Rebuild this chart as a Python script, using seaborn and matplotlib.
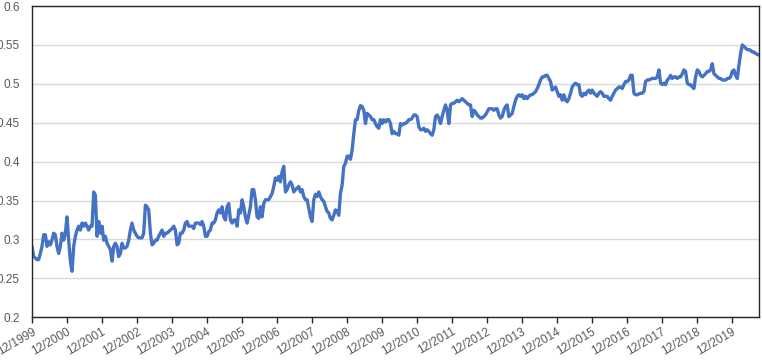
import pandas as pd
import numpy as np
import seaborn as sns
import matplotlib.pyplot as plt
import matplotlib.dates as mdates


values_2000_2006 = [
    0.291, 0.278, 0.276, 0.274, 0.274, 0.282, 0.291, 0.306, 0.306, 0.291,
    0.297, 0.293, 0.299, 0.308, 0.306, 0.291, 0.282, 0.291, 0.308, 0.299,
    0.308, 0.329, 0.299, 0.272, 0.259, 0.291, 0.304, 0.312, 0.317, 0.312,
    0.321, 0.317, 0.321, 0.317, 0.312, 0.317, 0.317, 0.361, 0.357, 0.304,
    0.323, 0.308, 0.317, 0.299, 0.304, 0.295, 0.291, 0.287, 0.272, 0.291,
    0.295, 0.291, 0.278, 0.282, 0.295, 0.289, 0.289, 0.291, 0.299, 0.312,
    0.321, 0.312, 0.308, 0.304, 0.302, 0.302, 0.302, 0.308, 0.344, 0.342,
    0.338, 0.308, 0.293, 0.295, 0.299, 0.299, 0.304, 0.308, 0.312, 0.304,
    0.308, 0.308, 0.310, 0.312, 0.314, 0.317, 0.312, 0.293, 0.295, 0.308,
    0.308, 0.312, 0.321, 0.323, 0.317, 0.317, 0.317, 0.314, 0.321, 0.321,
    0.321, 0.319, 0.323, 0.317, 0.304, 0.304, 0.310, 0.312, 0.321, 0.321,
    0.325, 0.334, 0.338, 0.334, 0.342, 0.329, 0.325, 0.342, 0.346, 0.325,
    0.321, 0.325, 0.325, 0.317, 0.338, 0.334, 0.351, 0.342, 0.329, 0.321,
    0.331, 0.342, 0.364, 0.364, 0.351,
]

values_2007_2013 = [
    0.329, 0.327, 0.342, 0.329, 0.346, 0.351, 0.351, 0.351, 0.355, 0.359,
    0.368, 0.379, 0.376, 0.381, 0.374, 0.387, 0.394, 0.361, 0.364, 0.370,
    0.374, 0.370, 0.361, 0.364, 0.366, 0.368, 0.361, 0.364, 0.355, 0.351,
    0.351, 0.340, 0.329, 0.323, 0.351, 0.358, 0.355, 0.361, 0.355, 0.351,
    0.349, 0.342, 0.336, 0.334, 0.327, 0.325, 0.331, 0.338, 0.336, 0.331,
    0.359, 0.370, 0.394, 0.398, 0.407, 0.407, 0.403, 0.415, 0.436, 0.454,
    0.454, 0.466, 0.472, 0.471, 0.466, 0.449, 0.462, 0.460, 0.458, 0.454,
    0.454, 0.449, 0.445, 0.443, 0.454, 0.449, 0.454, 0.451, 0.454, 0.454,
    0.449, 0.436, 0.439, 0.436, 0.436, 0.434, 0.449, 0.447, 0.449, 0.449,
    0.451, 0.454, 0.454, 0.456, 0.460, 0.460, 0.458, 0.445, 0.441, 0.441,
    0.443, 0.439, 0.441, 0.439, 0.436, 0.434, 0.441, 0.458, 0.460, 0.456,
    0.449, 0.458, 0.466, 0.473, 0.466, 0.449, 0.473, 0.475, 0.475, 0.477,
    0.479, 0.477, 0.479, 0.481, 0.479, 0.477, 0.475, 0.473, 0.473, 0.458,
    0.466, 0.464, 0.460, 0.458, 0.456, 0.456, 0.458, 0.460, 0.464, 0.468,
    0.468, 0.468, 0.466, 0.468, 0.468, 0.460, 0.456, 0.458, 0.466, 0.471,
    0.473, 0.458,
]

values_2014_2020 = [
    0.460, 0.462, 0.471, 0.479, 0.484, 0.486, 0.484, 0.486, 0.481, 0.484,
    0.481, 0.484, 0.486, 0.486, 0.488, 0.490, 0.494, 0.499, 0.505, 0.509,
    0.509, 0.511, 0.511, 0.507, 0.503, 0.492, 0.494, 0.496, 0.490, 0.484,
    0.486, 0.479, 0.486, 0.479, 0.477, 0.481, 0.488, 0.496, 0.499, 0.501,
    0.499, 0.499, 0.486, 0.484, 0.488, 0.486, 0.490, 0.492, 0.488, 0.492,
    0.488, 0.486, 0.484, 0.488, 0.490, 0.488, 0.484, 0.484, 0.484, 0.481,
    0.479, 0.484, 0.488, 0.492, 0.494, 0.496, 0.496, 0.494, 0.499, 0.503,
    0.503, 0.505, 0.511, 0.511, 0.488, 0.486, 0.486, 0.487, 0.488, 0.488,
    0.490, 0.503, 0.505, 0.505, 0.506, 0.507, 0.507, 0.507, 0.509, 0.518,
    0.501, 0.499, 0.501, 0.499, 0.505, 0.507, 0.511, 0.507, 0.509, 0.509,
    0.507, 0.509, 0.509, 0.513, 0.518, 0.516, 0.501, 0.499, 0.499, 0.496,
    0.494, 0.509, 0.518, 0.516, 0.511, 0.509, 0.511, 0.513, 0.516, 0.516,
    0.518, 0.526, 0.513, 0.511, 0.509, 0.507, 0.507, 0.505, 0.505, 0.505,
    0.507, 0.507, 0.509, 0.516, 0.518, 0.511, 0.507, 0.524, 0.539, 0.550,
    0.548, 0.546, 0.544, 0.544, 0.543, 0.541, 0.541, 0.539, 0.538, 0.537,
]

values = values_2000_2006 + values_2007_2013 + values_2014_2020
dates = pd.date_range("1999-12-01", "2020-09-12", periods=len(values))

tick_years = list(range(1999, 2020))
tick_dates = [pd.Timestamp(f"{y}-12-01") for y in tick_years]
tick_labels = [f"12/{y}" for y in tick_years]
y_ticks = [0.2, 0.25, 0.3, 0.35, 0.4, 0.45, 0.5, 0.55, 0.6]

df = pd.DataFrame({"date": dates, "value": values})

sns.set_theme(style="white")
plt.rcParams["font.family"] = ["Liberation Sans", "DejaVu Sans"]

fig = plt.figure(figsize=(7.62, 3.6), dpi=100)
ax = fig.add_axes([0.042, 0.119, 0.954, 0.864])

sns.lineplot(data=df, x="date", y="value", ax=ax, color="#4472C4", linewidth=2.4)

ax.set_xlim(dates[0], dates[-1])
ax.set_ylim(0.2, 0.6)
ax.set_yticks(y_ticks)
ax.set_yticklabels([f"{v:g}" for v in y_ticks])
ax.set_xticks(tick_dates)
ax.set_xticklabels(tick_labels, rotation=30, ha="right", rotation_mode="anchor")
ax.grid(axis="y", color="#D9D9D9", linewidth=1)
ax.set_axisbelow(True)
ax.set_xlabel("")
ax.set_ylabel("")

for side in ["left", "right", "top", "bottom"]:
    ax.spines[side].set_color("#262626")
    ax.spines[side].set_linewidth(1)

ax.tick_params(axis="x", which="major", bottom=True, length=4, width=1,
               color="#262626", labelsize=8.5, labelcolor="#595959", pad=2)
ax.tick_params(axis="y", left=False, labelsize=8.5, labelcolor="#595959", pad=3)

fig.savefig("out.png", dpi=100)
